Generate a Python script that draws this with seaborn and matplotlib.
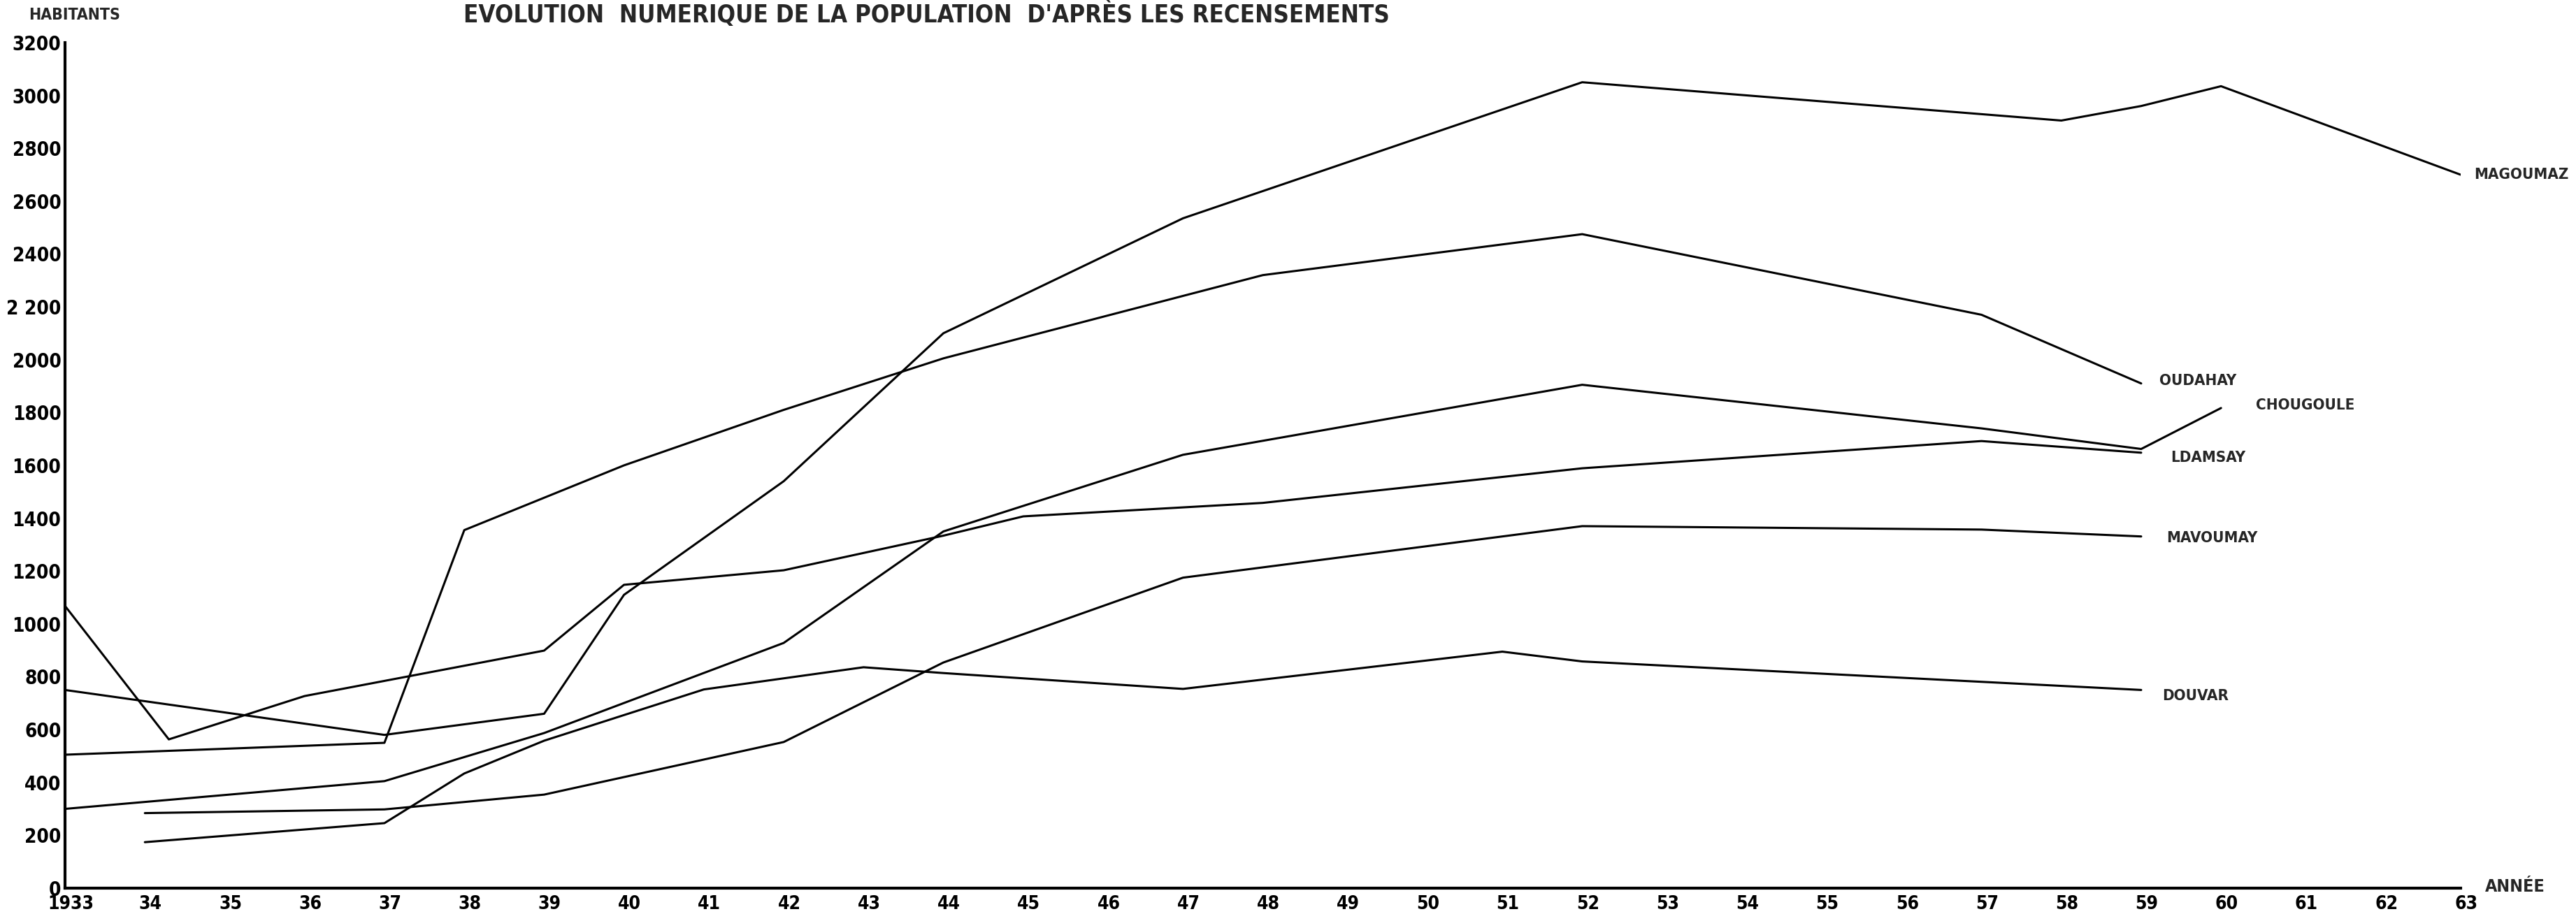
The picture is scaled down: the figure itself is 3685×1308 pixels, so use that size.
#!/usr/bin/env python3
# -*- coding: utf-8 -*-
"""
Evolution numerique de la population d'apres les recensements
courbes par village, trait noir, style graphique imprime
"""

import seaborn as sns
import matplotlib.pyplot as plt
import matplotlib.transforms as mtransforms
from matplotlib import font_manager
import pandas as pd

# donnees
magoumaz_years = [1933, 1937, 1939, 1940, 1942, 1944, 1947, 1952, 1958, 1959, 1960, 1963]
magoumaz_pop = [750, 580, 660, 1110, 1540, 2100, 2535, 3050, 2905, 2960, 3035, 2700]

oudahay_years = [1933, 1937, 1938, 1940, 1942, 1944, 1948, 1952, 1957, 1959]
oudahay_pop = [505, 550, 1355, 1600, 1810, 2005, 2320, 2475, 2170, 1910]

chougoule_years = [1933, 1937, 1939, 1942, 1944, 1947, 1952, 1957, 1959, 1960]
chougoule_pop = [300, 405, 587, 928, 1350, 1640, 1905, 1740, 1662, 1817]

ldamsay_years = [1933, 1934.3, 1936, 1939, 1940, 1942, 1944, 1945, 1948, 1952, 1957, 1959]
ldamsay_pop = [1068, 563, 727, 899, 1148, 1203, 1334, 1407, 1458, 1589, 1692, 1648]

mavoumay_years = [1934, 1937, 1939, 1942, 1944, 1947, 1952, 1957, 1959]
mavoumay_pop = [284, 298, 354, 553, 854, 1175, 1370, 1357, 1331]

douvar_years = [1934, 1937, 1938, 1939, 1941, 1943, 1944, 1947, 1951, 1952, 1959]
douvar_pop = [174, 246, 434, 558, 752, 836, 814, 754, 895, 858, 750]

villages = ["MAGOUMAZ", "OUDAHAY", "CHOUGOULE", "LDAMSAY", "MAVOUMAY", "DOUVAR"]

x_ticks = list(range(1933, 1964))
x_tick_labels = ["1933"] + [str(y % 100) for y in range(1934, 1964)]
y_ticks = list(range(0, 3201, 200))
y_tick_labels = ["0", "200", "400", "600", "800", "1000", "1200", "1400", "1600",
                 "1800", "2000", "2 200", "2400", "2600", "2800", "3000", "3200"]

title = "EVOLUTION  NUMERIQUE DE LA POPULATION  D'APRÈS LES RECENSEMENTS"

# tableau long pour seaborn
series = {
    "MAGOUMAZ": (magoumaz_years, magoumaz_pop),
    "OUDAHAY": (oudahay_years, oudahay_pop),
    "CHOUGOULE": (chougoule_years, chougoule_pop),
    "LDAMSAY": (ldamsay_years, ldamsay_pop),
    "MAVOUMAY": (mavoumay_years, mavoumay_pop),
    "DOUVAR": (douvar_years, douvar_pop),
}
df = pd.concat(
    [pd.DataFrame({"annee": yrs, "habitants": pop, "village": name})
     for name, (yrs, pop) in series.items()],
    ignore_index=True,
)

# police etroite si disponible, sinon Liberation Sans (plus etroite que DejaVu)
narrow = None
for f in font_manager.fontManager.ttflist:
    if "Narrow" in f.name or "Condensed" in f.name or f.stretch in ("condensed", "semi-condensed"):
        narrow = f
        break

sns.set_style("white")
if narrow is not None:
    plt.rcParams["font.family"] = [narrow.name, "DejaVu Sans"]
    plt.rcParams["font.stretch"] = narrow.stretch
else:
    plt.rcParams["font.family"] = ["Liberation Sans", "DejaVu Sans"]
plt.rcParams["font.weight"] = "bold"

fig = plt.figure(figsize=(36.85, 13.08), dpi=100)
ax = fig.add_axes([0.02524, 0.02829, 0.9552 - 0.02524, 0.9534 - 0.02829])

sns.lineplot(data=df, x="annee", y="habitants", hue="village", units="village",
             estimator=None, sort=False, palette={v: "black" for v in villages},
             linewidth=2.2, legend=False, ax=ax)

ax.set_xlim(1933, 1963)
ax.set_ylim(0, 3200)
ax.set_xticks(x_ticks)
ax.set_xticklabels(x_tick_labels, fontsize=19)
ax.set_yticks(y_ticks)
ax.set_yticklabels(y_tick_labels, fontsize=20)
ax.set_xlabel("")
ax.set_ylabel("")

sns.despine(ax=ax)
for side in ["left", "bottom"]:
    ax.spines[side].set_linewidth(3)
    ax.spines[side].set_color("black")

ax.tick_params(axis="x", direction="in", length=11, width=1.5, pad=7, colors="black")
ax.tick_params(axis="y", direction="in", length=13, width=2.5, pad=4, colors="black")

# decaler un peu les etiquettes d'annees vers la droite
shift = mtransforms.ScaledTranslation(0.08, 0, fig.dpi_scale_trans)
for lbl in ax.get_xticklabels():
    lbl.set_transform(lbl.get_transform() + shift)

# noms des villages en bout de courbe
offsets = {
    "MAGOUMAZ": (14, 0),
    "OUDAHAY": (19, 3),
    "CHOUGOULE": (36, 3),
    "LDAMSAY": (30, -5),
    "MAVOUMAY": (26, -2),
    "DOUVAR": (22, -6),
}
for name, (yrs, pop) in series.items():
    ax.annotate(name, (yrs[-1], pop[-1]), xytext=offsets[name],
                textcoords="offset points", ha="left", va="center",
                fontsize=16, annotation_clip=False)

fig.text(663 / 3685, 1 - 20 / 1308, title, ha="left", va="center", fontsize=25)
fig.text(41 / 3685, 1 - 22 / 1308, "HABITANTS", ha="left", va="center", fontsize=16.5)
fig.text(3555 / 3685, 1 - 1269 / 1308, "ANNÉE", ha="left", va="center", fontsize=18)

fig.savefig("out.png", dpi=100, facecolor="white")
plt.close(fig)
